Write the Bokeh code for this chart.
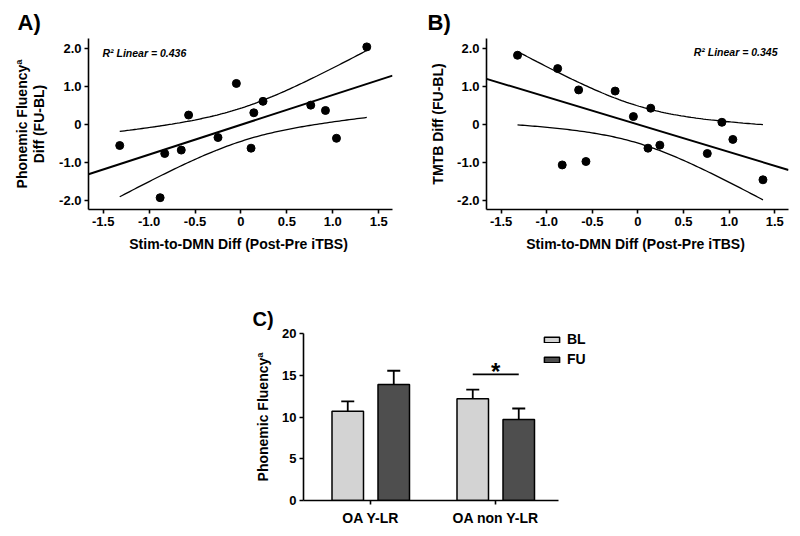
import numpy as np
from bokeh.plotting import figure
from bokeh.layouts import column, row, Spacer
from bokeh.models import (FixedTicker, CustomJSTickFormatter, Label, Legend, LegendItem)
from bokeh.core.properties import value
from bokeh.embed import file_html
from bokeh.resources import INLINE

# ---------------- data ----------------
stim_dmn_diff = [-1.32, -0.88, -0.83, -0.65, -0.57, -0.25, -0.05, 0.11, 0.14, 0.24, 0.76, 0.92, 1.04, 1.37]
fluency_diff = [-0.55, -1.92, -0.76, -0.67, 0.25, -0.34, 1.08, -0.62, 0.31, 0.61, 0.51, 0.37, -0.36, 2.04]
tmtb_diff = [1.82, 1.47, -1.06, 0.91, -0.97, 0.88, 0.21, -0.62, 0.43, -0.54, -0.76, 0.06, -0.39, -1.45]
r2_text_a = "R\u00b2 Linear = 0.436"
r2_text_b = "R\u00b2 Linear = 0.345"
xticks_scatter = [-1.5, -1.0, -0.5, 0.0, 0.5, 1.0, 1.5]
yticks_scatter = [-2.0, -1.0, 0.0, 1.0, 2.0]

groups = ["OA Y-LR", "OA non Y-LR"]
bl_mean = [10.7, 12.2]
bl_sem = [1.16, 1.08]
fu_mean = [13.9, 9.7]
fu_sem = [1.64, 1.32]
yticks_bar = [0, 5, 10, 15, 20]

FONT = "Liberation Sans"
BL_COLOR = "#d3d3d3"
FU_COLOR = "#4e4e4e"
T_975_12 = 2.1788  # t quantile, df = n - 2 = 12


def style(p, tick_size="13px"):
    p.grid.grid_line_color = None
    p.outline_line_color = None
    p.background_fill_color = "white"
    p.border_fill_color = "white"
    for ax in p.axis:
        ax.axis_line_width = 1.6
        ax.axis_line_color = "black"
        ax.major_tick_line_width = 1.6
        ax.major_tick_line_color = "black"
        ax.major_tick_out = 4
        ax.major_tick_in = 0
        ax.minor_tick_line_color = None
        ax.major_label_text_font = FONT
        ax.major_label_text_font_style = "bold"
        ax.major_label_text_font_size = tick_size
        ax.major_label_text_color = "black"
        ax.axis_label_text_font = FONT
        ax.axis_label_text_font_style = "bold"
        ax.axis_label_text_font_size = "14px"
        ax.axis_label_text_color = "black"
        ax.axis_label_text_line_height = 1.05
        ax.major_label_standoff = 3


def panel_title(p, text, offset, size):
    p.title.text = text
    p.title.align = "left"
    p.title.offset = offset
    p.title.text_font = FONT
    p.title.text_font_style = "bold"
    p.title.text_font_size = size
    p.title.text_color = "black"
    p.title.standoff = 8


fmt_js = "return tick == 0 ? '0' : tick.toFixed(1);"


def scatter_panel(x, y, ylabel, r2_text, r2_right, panel_letter, left_border, frame_w, letter_off,
                  ylabel_standoff):
    p = figure(width=400, height=290, x_range=(-1.66, 1.65), y_range=(-2.23, 2.26),
               output_backend="svg", toolbar_location=None,
               min_border_left=left_border, min_border_right=400 - left_border - frame_w,
               min_border_top=38, min_border_bottom=81)
    style(p)
    panel_title(p, panel_letter, letter_off, "22px")
    p.xaxis.ticker = FixedTicker(ticks=xticks_scatter)
    p.yaxis.ticker = FixedTicker(ticks=yticks_scatter)
    p.xaxis.formatter = CustomJSTickFormatter(code=fmt_js)
    p.yaxis.formatter = CustomJSTickFormatter(code=fmt_js)
    p.xaxis.axis_label = "Stim-to-DMN  Diff (Post-Pre iTBS)"
    p.yaxis.axis_label = ylabel
    p.xaxis.axis_label_standoff = 7
    p.yaxis.axis_label_standoff = ylabel_standoff

    xa = np.array(x, dtype=float)
    ya = np.array(y, dtype=float)
    n = len(xa)
    b, a = np.polyfit(xa, ya, 1)
    resid = ya - (a + b * xa)
    s = np.sqrt(np.sum(resid ** 2) / (n - 2))
    sxx = np.sum((xa - xa.mean()) ** 2)

    # fit line across the whole axis
    xl = np.array([p.x_range.start, p.x_range.end])
    p.line(xl, a + b * xl, line_color="black", line_width=2)
    # 95% CI of the mean, over the data span
    xs = np.linspace(xa.min(), xa.max(), 100)
    se = s * np.sqrt(1.0 / n + (xs - xa.mean()) ** 2 / sxx)
    yfit = a + b * xs
    p.line(xs, yfit + T_975_12 * se, line_color="black", line_width=1.3)
    p.line(xs, yfit - T_975_12 * se, line_color="black", line_width=1.3)

    p.scatter(xa, ya, size=8, color="black")

    if r2_right:
        lab = Label(x=frame_w - 11, y=158, x_units="screen", y_units="screen", text=r2_text,
                    text_align="right", text_baseline="middle")
    else:
        lab = Label(x=14, y=157, x_units="screen", y_units="screen", text=r2_text,
                    text_align="left", text_baseline="middle")
    lab.text_font = FONT
    lab.text_font_style = "bold italic"
    lab.text_font_size = "10.5px"
    lab.text_color = "black"
    p.add_layout(lab)
    return p


pA = scatter_panel(stim_dmn_diff, fluency_diff, "Phonemic Fluency\u00aa\nDiff (FU-BL)",
                   r2_text_a, False, "A)", 88, 304, -71, 9)
pB = scatter_panel(stim_dmn_diff, tmtb_diff, "TMTB Diff (FU-BL)",
                   r2_text_b, True, "B)", 86, 302, -59, 8)

# ---------------- panel C ----------------
px_per_unit = 125.0
x_lo, x_hi = 0.462, 2.504          # visible axis extent
frame_w_c = 292                     # frame also holds the legend
pC = figure(width=400, height=246, x_range=(x_lo, x_lo + frame_w_c / px_per_unit), y_range=(0, 20),
            output_backend="svg", toolbar_location=None,
            min_border_left=103, min_border_right=400 - 103 - frame_w_c,
            min_border_top=43, min_border_bottom=36)
style(pC)
panel_title(pC, "C)", -51, "20px")
pC.xaxis.bounds = (x_lo, x_hi)
pC.xaxis.ticker = FixedTicker(ticks=[1, 2])
pC.xaxis.major_label_overrides = {1: groups[0], 2: groups[1]}
pC.xaxis.major_label_text_font_size = "14px"
pC.xaxis.major_tick_out = 4
pC.xaxis.major_label_standoff = 5
pC.yaxis.ticker = FixedTicker(ticks=yticks_bar)
pC.yaxis.axis_label = "Phonemic Fluency\u00aa"
pC.yaxis.axis_label_standoff = 8

idx = np.arange(1, len(groups) + 1)
off = 0.184
bw = 0.252
cap = 0.052
x_bl = idx - off
x_fu = idx + off
bl_m = np.array(bl_mean); bl_e = np.array(bl_sem)
fu_m = np.array(fu_mean); fu_e = np.array(fu_sem)

# error bars (upper only)
for xx, m, e in ((x_bl, bl_m, bl_e), (x_fu, fu_m, fu_e)):
    pC.segment(xx, m, xx, m + e, line_color="black", line_width=1.8)
    pC.segment(xx - cap, m + e, xx + cap, m + e, line_color="black", line_width=1.8)

r_bl = pC.vbar(x=x_bl, top=bl_m, width=bw, fill_color=BL_COLOR, line_color="black", line_width=1.5)
r_fu = pC.vbar(x=x_fu, top=fu_m, width=bw, fill_color=FU_COLOR, line_color="black", line_width=1.5)

# significance marker for OA non Y-LR
sig_y = 15.1
pC.segment([x_bl[1]], [sig_y], [x_fu[1]], [sig_y], line_color="black", line_width=1.8)
pC.text([idx[1]], [sig_y], text=["*"], text_align="center", text_baseline="alphabetic",
        y_offset=-3, text_font=value(FONT), text_font_style="bold", text_font_size="24px",
        text_color="black")

legend = Legend(items=[LegendItem(label="BL", renderers=[r_bl]),
                       LegendItem(label="FU", renderers=[r_fu])],
                location=(239, 133))
legend.glyph_width = 19
legend.glyph_height = 7
legend.label_height = 16
legend.label_width = 30
legend.spacing = 4
legend.padding = 0
legend.margin = 0
legend.label_standoff = 6
legend.border_line_color = None
legend.background_fill_alpha = 0
legend.label_text_font = FONT
legend.label_text_font_style = "bold"
legend.label_text_font_size = "14px"
legend.label_text_color = "black"
pC.add_layout(legend)

layout = column(row(pA, pB), row(Spacer(width=200, height=246), pC))

open("out.html", "w").write(file_html(layout, INLINE))
